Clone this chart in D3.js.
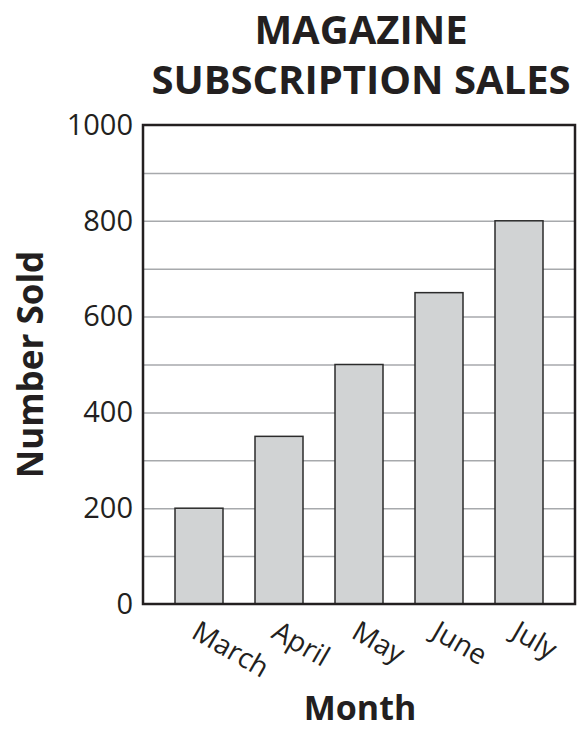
<!DOCTYPE html>
<html>
<head>
<meta charset="utf-8">
<script src="https://cdn.jsdelivr.net/npm/d3@7"></script>
<style>
  body { margin: 0; background: #fff; }
  svg { display: block; font-family: "Open Sans", sans-serif; }
</style>
</head>
<body>
<div id="chart"></div>
<script>
// chart data
const months = ['March', 'April', 'May', 'June', 'July'];
const sold = [200, 350, 500, 650, 800];
const yTicks = [0, 200, 400, 600, 800, 1000];
const gridTicks = [100, 200, 300, 400, 500, 600, 700, 800, 900];

const width = 578, height = 730;
const margin = { left: 143, right: 3, top: 125, bottom: 126 };
const ink = '#231f20';

const svg = d3.select('#chart').append('svg')
  .attr('width', width)
  .attr('height', height);

const x = d3.scaleBand()
  .domain(months)
  .range([margin.left, width - margin.right])
  .paddingInner(0.4)
  .paddingOuter(0.4);

const y = d3.scaleLinear()
  .domain([0, 1000])
  .range([height - margin.bottom, margin.top]);

// gridlines
svg.append('g')
  .attr('transform', `translate(${margin.left},0)`)
  .call(d3.axisLeft(y).tickValues(gridTicks).tickSize(-(width - margin.right - margin.left)).tickFormat(''))
  .call(g => g.select('.domain').remove())
  .call(g => g.selectAll('line').attr('stroke', '#a7a9ac').attr('stroke-width', 1.5));

// bars
svg.append('g')
  .selectAll('rect')
  .data(sold)
  .enter()
  .append('rect')
  .attr('x', (d, i) => x(months[i]))
  .attr('y', d => y(d))
  .attr('width', x.bandwidth())
  .attr('height', d => y(0) - y(d))
  .attr('fill', '#d1d3d4')
  .attr('stroke', '#2b2b2b')
  .attr('stroke-width', 1.5);

// frame
svg.append('rect')
  .attr('x', margin.left)
  .attr('y', y(1000))
  .attr('width', width - margin.right - margin.left)
  .attr('height', y(0) - y(1000))
  .attr('fill', 'none')
  .attr('stroke', ink)
  .attr('stroke-width', 2.5);

// y axis labels
svg.append('g')
  .attr('transform', `translate(${margin.left},0)`)
  .call(d3.axisLeft(y).tickValues(yTicks).tickSize(0).tickPadding(10).tickFormat(d3.format('d')))
  .call(g => g.select('.domain').remove())
  .call(g => g.selectAll('text')
    .attr('font-family', '"Open Sans", sans-serif')
    .attr('font-size', 29)
    .attr('fill', ink));

// month labels, rotated
svg.append('g')
  .selectAll('text')
  .data(months)
  .enter()
  .append('text')
  .attr('transform', d => `translate(${x(d) + x.bandwidth() / 2 - 9},637) rotate(30)`)
  .attr('font-size', 28)
  .attr('fill', ink)
  .text(d => d);

// titles
const title = svg.append('text')
  .attr('text-anchor', 'middle')
  .attr('font-size', 40)
  .attr('font-weight', 'bold')
  .attr('fill', ink);
title.append('tspan').attr('x', 361).attr('y', 44).text('MAGAZINE');
title.append('tspan').attr('x', 361).attr('y', 94).text('SUBSCRIPTION SALES');

svg.append('text')
  .attr('x', 360)
  .attr('y', 720)
  .attr('text-anchor', 'middle')
  .attr('font-size', 34)
  .attr('font-weight', 'bold')
  .attr('fill', ink)
  .text('Month');

svg.append('text')
  .attr('transform', `translate(43,${(y(0) + y(1000)) / 2}) rotate(-90)`)
  .attr('text-anchor', 'middle')
  .attr('font-size', 35)
  .attr('font-weight', 'bold')
  .attr('fill', ink)
  .text('Number Sold');
</script>
</body>
</html>
